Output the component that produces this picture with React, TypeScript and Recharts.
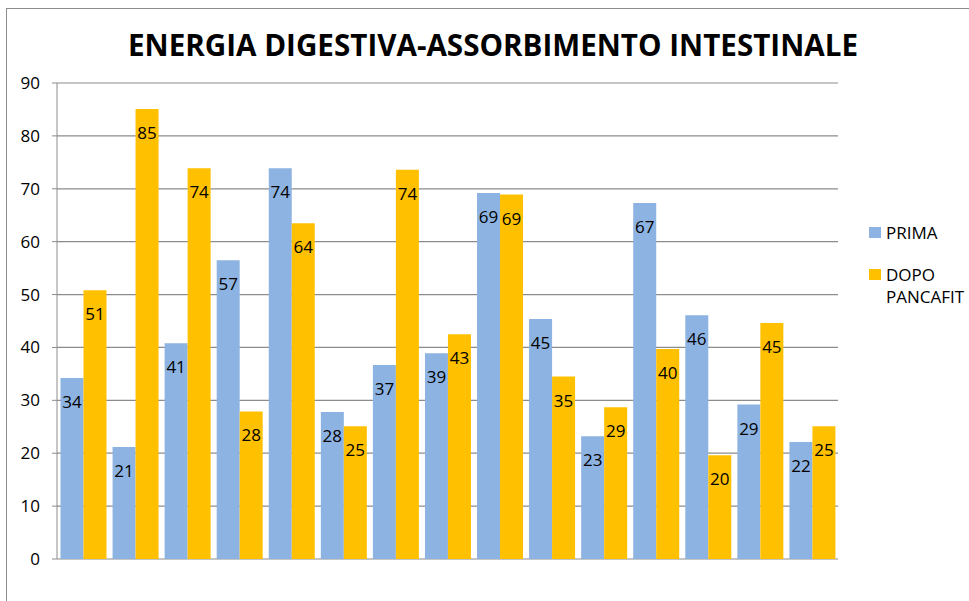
import { BarChart, Bar, XAxis, YAxis, CartesianGrid, LabelList, Legend } from 'recharts';

const categories = ['1', '2', '3', '4', '5', '6', '7', '8', '9', '10', '11', '12', '13', '14', '15'];
const prima = [34.2, 21.2, 40.8, 56.5, 73.9, 27.8, 36.7, 38.9, 69.2, 45.4, 23.2, 67.3, 46.1, 29.2, 22.1];
const dopo = [50.8, 85.1, 73.9, 27.9, 63.5, 25.1, 73.6, 42.5, 68.9, 34.5, 28.7, 39.7, 19.6, 44.6, 25.1];
const yTicks = [0, 10, 20, 30, 40, 50, 60, 70, 80, 90];

const TITLE = 'ENERGIA DIGESTIVA-ASSORBIMENTO INTESTINALE';
const BLUE = '#8DB3E2';
const GOLD = '#FFC000';
const GRID = '#8c8c8c';
const FONT = '"Open Sans", sans-serif';

const data = categories.map((c, i) => ({ cat: c, prima: prima[i], dopo: dopo[i] }));

const renderLabel = (props: any) => {
  const { x, y, width, value } = props;
  return (
    <text x={x + width / 2} y={y + 30} textAnchor="middle" fontSize={17} fill="#000" fontFamily={FONT}>
      {Math.round(value)}
    </text>
  );
};

const legendItems = [
  { label: ['PRIMA'], color: BLUE },
  { label: ['DOPO', 'PANCAFIT'], color: GOLD },
];

const renderLegend = () => (
  <div style={{ fontFamily: FONT, fontSize: 17, color: '#000', lineHeight: '22px', textAlign: 'left' }}>
    {legendItems.map((it, i) => (
      <div key={i} style={{ display: 'flex', alignItems: 'flex-start', marginBottom: i === 0 ? 20 : 0 }}>
        <div style={{ width: 12, height: 11, background: it.color, marginTop: 5, marginRight: 5 }} />
        <div>
          {it.label.map((l) => <div key={l}>{l}</div>)}
        </div>
      </div>
    ))}
  </div>
);

export default function App() {
  return (
    <div style={{ position: 'absolute', left: 0, top: 0, width: 969, height: 601, overflow: 'hidden', background: '#fff' }}>
      <div style={{
        position: 'absolute', left: 6, top: 8, width: 1000, height: 700,
        borderLeft: `1.5px solid ${GRID}`, borderTop: `1.5px solid ${GRID}`,
      }} />
      <svg style={{ position: 'absolute', left: 0, top: 0 }} width={969} height={80}>
        <text x={493} y={56} textAnchor="middle" fontSize={31} fontWeight={700} fontFamily={FONT}
          textLength={730} lengthAdjust="spacingAndGlyphs" fill="#000">
          {TITLE}
        </text>
      </svg>
      <div style={{ position: 'absolute', left: 0, top: 0 }}>
        <BarChart width={969} height={601} data={data}
          margin={{ top: 83, right: 131, bottom: 42, left: 0 }}
          barCategoryGap="6.7%" barGap={0}>
          <CartesianGrid vertical={false} stroke={GRID} strokeWidth={1.2} />
          <XAxis dataKey="cat" hide />
          <YAxis
            domain={[0, 90]}
            ticks={yTicks}
            width={57}
            tickSize={5}
            tickMargin={12}
            axisLine={{ stroke: GRID }}
            tickLine={{ stroke: GRID }}
            tick={{ fill: '#000', fontSize: 17, fontFamily: FONT }}
          />
          <Legend
            layout="horizontal"
            verticalAlign="middle"
            content={renderLegend}
            wrapperStyle={{ position: 'absolute', left: 869, top: 222, width: 100 }}
          />
          <Bar dataKey="prima" name="PRIMA" fill={BLUE} isAnimationActive={false}>
            <LabelList dataKey="prima" content={renderLabel} />
          </Bar>
          <Bar dataKey="dopo" name="DOPO PANCAFIT" fill={GOLD} isAnimationActive={false}>
            <LabelList dataKey="dopo" content={renderLabel} />
          </Bar>
        </BarChart>
      </div>
    </div>
  );
}
